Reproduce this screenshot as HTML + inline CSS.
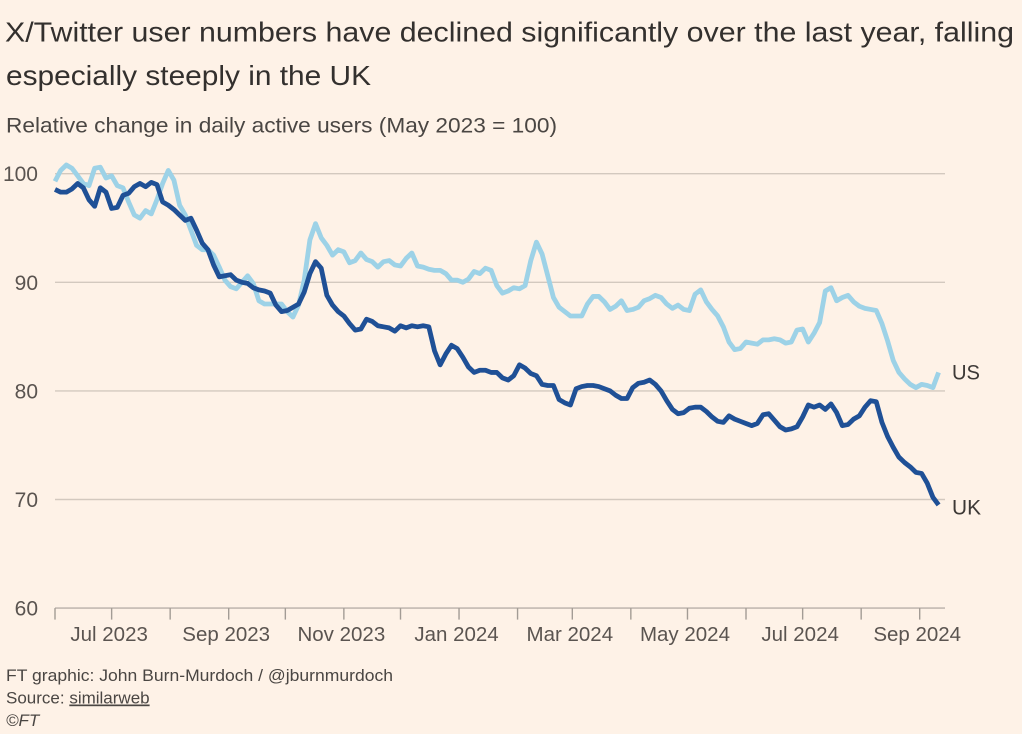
<!DOCTYPE html>
<html lang="en">
<head>
<meta charset="utf-8">
<title>X/Twitter user numbers</title>
<style>
html,body{margin:0;padding:0;background:#fef2e7;}
svg{display:block;font-family:"Liberation Sans",sans-serif;}
</style>
</head>
<body>
<svg id="chart" width="1022" height="734" viewBox="0 0 1022 734" xmlns="http://www.w3.org/2000/svg">
  <rect x="0" y="0" width="1022" height="734" fill="#fef2e7"/>
  <text x="5" y="41.5" font-size="28" fill="#33302e" textLength="1009" lengthAdjust="spacingAndGlyphs">X/Twitter user numbers have declined significantly over the last year, falling</text>
  <text x="6" y="85" font-size="28" fill="#33302e" textLength="365" lengthAdjust="spacingAndGlyphs">especially steeply in the UK</text>
  <text x="6" y="132.5" font-size="21.5" fill="#4a4643" textLength="551" lengthAdjust="spacingAndGlyphs">Relative change in daily active users (May 2023 = 100)</text>
  <g id="grid"></g>
  <g id="yticks"></g>
  <g id="xaxis"></g>
  <g id="series"></g>
  <text x="952" y="379.5" font-size="21" fill="#3d3936" textLength="28" lengthAdjust="spacingAndGlyphs">US</text>
  <text x="952" y="514.5" font-size="21" fill="#3d3936" textLength="29" lengthAdjust="spacingAndGlyphs">UK</text>
  <text x="6" y="681" font-size="17" fill="#4a4643" textLength="387" lengthAdjust="spacingAndGlyphs">FT graphic: John Burn-Murdoch / @jburnmurdoch</text>
  <text x="6" y="703.5" font-size="17" fill="#4a4643">Source: <tspan text-decoration="underline">similarweb</tspan></text>
  <text x="6" y="726" font-size="17" font-style="italic" fill="#4a4643">©FT</text>
</svg>
<script>
// Days since 1 Jun 2023 between consecutive samples
const sampleStepDays = 3;
const usValues = [
99.3,100.3,100.8,100.5,99.8,99.1,98.9,100.5,100.6,99.6,99.8,98.9,98.7,97.4,96.2,95.9,96.6,96.3,97.6,99.1,
100.3,99.4,97.1,96.2,94.8,93.4,93.0,93.0,92.5,91.4,90.2,89.6,89.4,90.0,90.6,89.9,88.3,88.0,88.0,88.0,
88.0,87.3,86.8,87.9,90.2,93.9,95.4,94.1,93.4,92.5,93.0,92.8,91.8,92.0,92.7,92.1,91.9,91.4,91.9,92.0,
91.6,91.5,92.2,92.7,91.5,91.4,91.2,91.1,91.1,90.8,90.2,90.2,90.0,90.3,91.0,90.8,91.3,91.1,89.7,89.0,
89.2,89.5,89.4,89.7,92.0,93.7,92.6,90.6,88.6,87.7,87.3,86.9,86.9,86.9,88.0,88.7,88.7,88.2,87.5,87.8,
88.3,87.4,87.5,87.7,88.3,88.5,88.8,88.6,88.0,87.6,87.9,87.5,87.4,88.9,89.3,88.2,87.5,86.9,85.9,84.5,
83.8,83.9,84.5,84.4,84.3,84.7,84.7,84.8,84.7,84.4,84.5,85.6,85.7,84.5,85.3,86.3,89.2,89.5,88.3,88.6,
88.8,88.2,87.8,87.6,87.5,87.4,86.2,84.6,82.8,81.7,81.1,80.6,80.3,80.6,80.5,80.3,81.7];
const ukValues = [
98.55,98.3,98.3,98.6,99.1,98.7,97.6,97.0,98.7,98.3,96.8,96.9,98.0,98.2,98.8,99.1,98.8,99.2,99.0,97.4,
97.1,96.7,96.2,95.7,95.9,94.8,93.6,93.0,91.6,90.5,90.6,90.7,90.2,90.0,89.9,89.5,89.3,89.2,89.0,87.9,
87.3,87.4,87.7,88.0,89.1,90.8,91.9,91.3,88.8,87.9,87.3,86.9,86.2,85.6,85.7,86.6,86.4,86.0,85.9,85.8,
85.5,86.0,85.8,86.0,85.9,86.0,85.9,83.7,82.4,83.4,84.2,83.9,83.1,82.2,81.7,81.9,81.9,81.7,81.7,81.2,
81.0,81.4,82.4,82.1,81.6,81.4,80.6,80.5,80.5,79.2,78.9,78.7,80.2,80.4,80.5,80.5,80.4,80.2,80.0,79.6,
79.3,79.3,80.3,80.7,80.8,81.0,80.6,80.0,79.1,78.3,77.9,78.0,78.4,78.5,78.5,78.1,77.6,77.2,77.1,77.7,
77.4,77.2,77.0,76.8,77.0,77.8,77.9,77.3,76.7,76.4,76.5,76.7,77.6,78.7,78.5,78.7,78.3,78.8,78.0,76.8,
76.9,77.4,77.7,78.5,79.1,79.0,77.1,75.8,74.8,73.9,73.4,73.0,72.5,72.4,71.5,70.2,69.5];
const yTickValues = [60,70,80,90,100];
const gridValues = [70,80,90,100];
const xTickDays = [0,30,61,92,122,153,183,214,245,274,305,335,366,396,427,458];
const xLabelDays = [30,92,153,214,274,335,396,458];
const xLabelTexts = ["Jul 2023","Sep 2023","Nov 2023","Jan 2024","Mar 2024","May 2024","Jul 2024","Sep 2024"];

const NS = "http://www.w3.org/2000/svg";
const plotLeft = 55, plotRight = 945, pxPerDay = 1.888;
const y100 = 173.7, pxPerUnit = 10.86;
function xScale(day){ return plotLeft + day * pxPerDay; }
function yScale(v){ return y100 + (100 - v) * pxPerUnit; }
function make(tag, attrs, parent){
  const el = document.createElementNS(NS, tag);
  for (const k in attrs) el.setAttribute(k, attrs[k]);
  parent.appendChild(el);
  return el;
}
const grid = document.getElementById("grid");
gridValues.forEach(function(v){
  const l = make("line", {x1:plotLeft, x2:plotRight, y1:yScale(v), y2:yScale(v), stroke:"#d3c9bf", "stroke-width":1.4}, grid);
  
  
});
const yticks = document.getElementById("yticks");
yTickValues.forEach(function(v){
  const t = make("text", {x:38, y:yScale(v)+7.5, "text-anchor":"end", "font-size":21, fill:"#5a5450"}, yticks);
  t.textContent = v;
  
  
});
const xaxis = document.getElementById("xaxis");
const axisY = yScale(60);
const axisLine = make("line", {x1:plotLeft, x2:plotRight, y1:axisY, y2:axisY, stroke:"#b8b0a8", "stroke-width":1.4}, xaxis);


xTickDays.forEach(function(d){
  const tk = make("line", {x1:xScale(d), x2:xScale(d), y1:axisY, y2:axisY+11.5, stroke:"#a39c95", "stroke-width":1.4}, xaxis);
  
  
});
xLabelDays.forEach(function(d,i){
  const t = make("text", {x:xScale(d)-2.5, y:641, "text-anchor":"middle", "font-size":20.5, fill:"#5a5450"}, xaxis);
  t.textContent = xLabelTexts[i];
  
  
});
function linePath(values){
  return values.map(function(v,i){
    return (i ? "L" : "M") + xScale(i * sampleStepDays).toFixed(2) + " " + yScale(v).toFixed(2);
  }).join("");
}
const series = document.getElementById("series");
const usLine = make("path", {d:linePath(usValues), fill:"none", stroke:"#9dd2e7", "stroke-width":4.8, "stroke-linejoin":"round"}, series);


const ukLine = make("path", {d:linePath(ukValues), fill:"none", stroke:"#1f5096", "stroke-width":4.8, "stroke-linejoin":"round"}, series);


</script>
</body>
</html>
